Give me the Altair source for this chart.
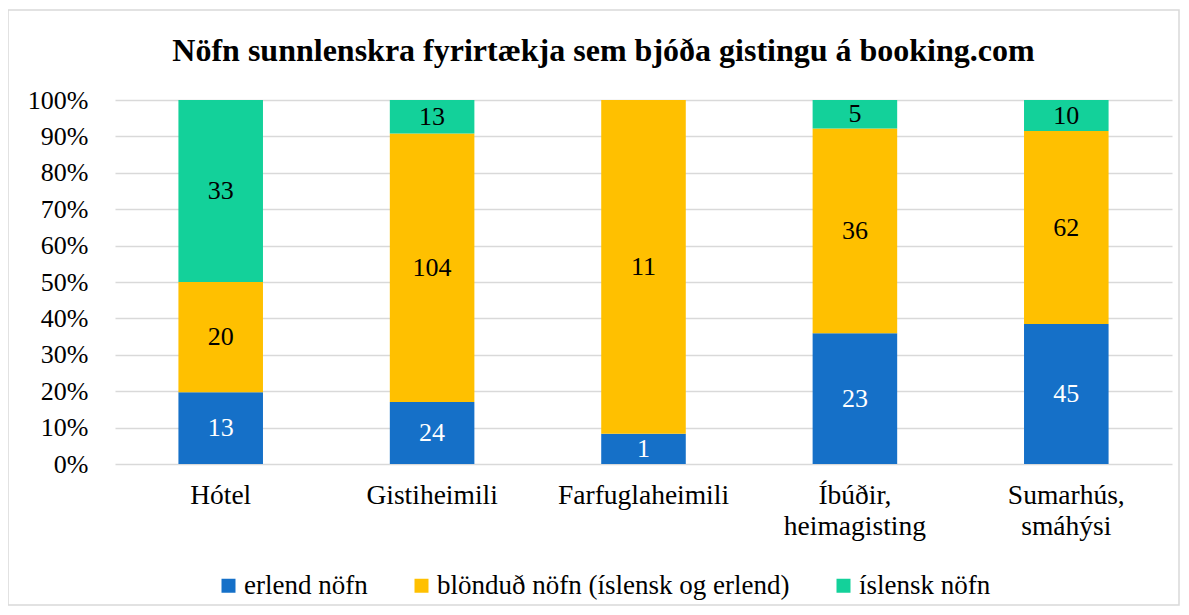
import altair as alt
import pandas as pd

categories = ["Hótel", "Gistiheimili", "Farfuglaheimili", "Íbúðir, heimagisting", "Sumarhús, smáhýsi"]
series = ["erlend nöfn", "blönduð nöfn (íslensk og erlend)", "íslensk nöfn"]
erlend = [13, 24, 1, 23, 45]
blondud = [20, 104, 11, 36, 62]
islensk = [33, 13, 0, 5, 10]
colors = ["#1570C8", "#FFC000", "#13D19A"]
ytick_values = [0, 0.1, 0.2, 0.3, 0.4, 0.5, 0.6, 0.7, 0.8, 0.9, 1.0]

rows = []
for i, c in enumerate(categories):
    for j, (s, vals) in enumerate(zip(series, [erlend, blondud, islensk])):
        rows.append({"cat": c, "series": s, "value": vals[i], "order": j})
df = pd.DataFrame(rows)

FONT = "Liberation Serif"
W, H = 1057, 364

base = alt.Chart(df).transform_stack(
    stack="value", groupby=["cat"], as_=["y0", "y1"], offset="normalize",
    sort=[alt.SortField("order", order="ascending")]
).transform_calculate(mid="(datum.y0 + datum.y1) / 2")

x_scale = alt.Scale(domain=categories, paddingInner=0.6, paddingOuter=0.3)
y_scale = alt.Scale(domain=[0, 1])

x_axis = alt.Axis(labelAngle=0, ticks=False, domain=False, grid=False,
                  labelFont=FONT, labelFontSize=27.5, labelColor="#000000",
                  labelPadding=17, labelLineHeight=31,
                  labelExpr="split(replace(datum.label, ', ', ',|'), '|')")
y_axis = alt.Axis(format="%", values=ytick_values, ticks=False, domain=False,
                  labelFont=FONT, labelFontSize=26, labelColor="#000000",
                  labelOverlap=False, labelPadding=27, grid=True,
                  gridColor="#d9d9d9", gridWidth=1.3)

bars = base.mark_bar().encode(
    x=alt.X("cat:N", sort=categories, title=None, scale=x_scale, axis=x_axis),
    y=alt.Y("y0:Q", title=None, scale=y_scale, axis=y_axis),
    y2="y1:Q",
    color=alt.Color("series:N", sort=series,
                    scale=alt.Scale(domain=series, range=colors),
                    legend=alt.Legend(title=None, orient="none", direction="horizontal",
                                      legendX=100, legendY=472, symbolType="square",
                                      symbolSize=196, symbolStrokeWidth=0, columnPadding=40,
                                      labelFont=FONT, labelFontSize=27, labelColor="#000000",
                                      labelOffset=2, labelLimit=600)),
)

labels = base.transform_filter("datum.value > 0").mark_text(
    font=FONT, fontSize=26, baseline="middle", align="center"
).encode(
    x=alt.X("cat:N", sort=categories, title=None, scale=x_scale, axis=x_axis),
    y=alt.Y("mid:Q", title=None, scale=y_scale, axis=y_axis),
    text=alt.Text("value:Q"),
    color=alt.condition("datum.order == 0", alt.value("#ffffff"), alt.value("#000000")),
)

border = alt.Chart(pd.DataFrame({"a": [0]})).mark_rect(
    fill=None, stroke="#d9d9d9", strokeWidth=1.5
).encode(x=alt.value(-107), x2=alt.value(1064), y=alt.value(-90), y2=alt.value(505))

chart = alt.layer(border, bars, labels).properties(
    width=W, height=H,
    title=alt.Title("Nöfn sunnlenskra fyrirtækja sem bjóða gistingu á booking.com",
                    font=FONT, fontSize=32, fontWeight="bold", color="#000000",
                    anchor="middle", frame="bounds", offset=-59, dx=10),
    autosize=alt.AutoSizeParams(type="none"),
    padding={"left": 107, "top": 92, "right": 9, "bottom": 143},
    background="#ffffff",
).configure(font=FONT).configure_view(stroke=None)

chart.save("out.html", embed_options={"renderer": "svg", "actions": False})
